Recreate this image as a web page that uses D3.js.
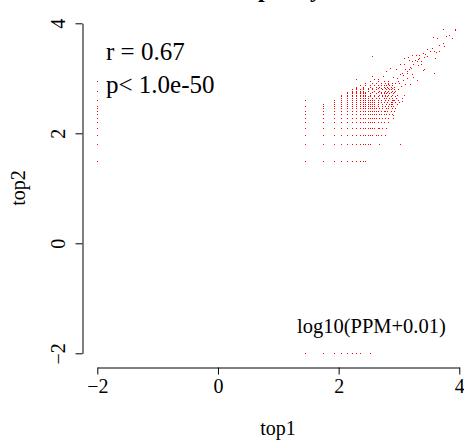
<!DOCTYPE html>
<html>
<head>
<meta charset="utf-8">
<script src="https://cdn.jsdelivr.net/npm/d3@7"></script>
<style>
  html, body { margin: 0; padding: 0; background: #fff; }
  svg { display: block; }
  text { font-family: "Liberation Serif", "Times New Roman", serif; fill: #000; }
</style>
</head>
<body>
<svg id="chart" width="464" height="443"></svg>
<script>
// ---------------- data ----------------
const titleText = "purity";
const xLabel = "top1";
const yLabel = "top2";
const statLines = ["r = 0.67", "p< 1.0e-50"];
const noteText = "log10(PPM+0.01)";
const tickValues = [-2, 0, 2, 4];
const pseudo = 0.01;

// PPM per read for each library
const top1PPMPerRead = 28.4;
const top2PPMPerRead = 30.8;

// top2 read counts where top1 has zero reads
const top1ZeroTop2Counts = [1, 2, 3, 4, 5, 6, 7, 8, 9, 10, 13, 19, 28];
// top1 read counts where top2 has zero reads
const top2ZeroTop1Counts = [1, 2, 3, 4, 5, 6, 7, 8, 12];

// low-count lattice: [top2 count, [top1 count ranges / singles]]
const latticeRows = [
  [1, [[1, 10]]],
  [2, [[1, 12], 17, 38]],
  [3, [[1, 13], 15, 16, 18, 21]],
  [4, [[1, 14], 16, 17, 19, 22]],
  [5, [[1, 14], 16, 18, 20, 24]],
  [6, [[1, 15], 17, 19, 21, 24, 29]],
  [7, [[1, 15], 17, 18, 20, 22, 25, 28]],
  [8, [[1, 16], 18, 20, 21, 23, 26, 30]],
  [9, [[2, 15], 17, 19, 22, 24, 27, 31]],
  [10, [[1, 14], 16, 19, 21, 24, 26, 29]],
  [11, [[2, 14], 16, 19, 22, 25, 27, 33]],
  [12, [[3, 14], 16, 18, 20, 23, 26, 28, 31, 36]],
  [13, [1, [3, 14], 16, 18, 21, 24, 27, 30, 34]],
  [14, [[4, 11], 13, 15, 17, 20, 22, 25, 28, 32, 40]],
  [15, [[4, 12], 14, 16, 19, 21, 23, 26, 31]],
  [16, [[4, 10], 12, 14, 17, 19, 21, 24, 27, 33]],
  [17, [[5, 10], 12, 15, 18, 20, 22, 25, 29]],
  [18, [[5, 10], 13, 16, 18, 20, 23, 26, 30]],
  [19, [[6, 9], 11, 14, 17, 21, 24, 28]],
  [20, [[6, 9], 11, 13, 15, 19, 22, 25, 30, 34]],
  [21, [7, 9, 11, 13, 16, 18, 21, 24, 27]],
  [22, [7, 9, 12, 15, 17, 20, 23, 26, 30]],
  [24, [8, 10, 12, 14, 16, 18, 20, 22, 25, 28]],
  [26, [10, 13, 15, 18, 21, 24, 27]],
  [28, [12, 16, 20, 24]]
];

// higher-expression points, log10(PPM+0.01)
const top1High = [3.741, 3.940, 3.945, 3.841, 3.791, 3.891, 3.565, 3.642, 3.741, 3.665, 3.758, 3.554, 3.476, 3.516,
  3.587, 3.626, 3.675, 3.405, 3.438, 3.476, 3.421, 3.609, 3.227, 3.289, 3.338, 3.344, 3.327, 3.272, 3.300, 3.366,
  2.564, 3.161, 3.090, 3.167, 3.217, 3.023, 3.095, 3.244, 3.371, 3.322, 3.426, 3.400, 3.587, 3.189, 3.167, 3.200,
  3.106, 3.134, 3.051, 3.144, 2.957, 2.862, 2.796, 2.912, 2.968, 3.023, 3.068, 3.217, 3.244, 3.134, 2.559, 2.592,
  2.663, 2.736, 3.300, 3.078, 3.012, 2.940, 3.189, 3.106, 3.090, 3.056, 2.869, 2.907, 2.299, 2.907, 2.990, 3.040,
  2.880, 2.830, 2.950];
const top2High = [3.891, 3.865, 3.880, 3.782, 3.764, 3.727, 3.745, 3.727, 3.636, 3.600, 3.582, 3.538, 3.515, 3.496,
  3.484, 3.478, 3.484, 3.442, 3.424, 3.393, 3.382, 3.369, 3.418, 3.418, 3.418, 3.364, 3.338, 3.320, 3.302, 3.302,
  3.400, 3.382, 3.351, 3.327, 3.309, 3.260, 3.255, 3.260, 3.260, 3.229, 3.151, 3.133, 3.091, 3.200, 3.164, 3.175,
  3.151, 3.120, 3.091, 3.084, 3.151, 3.182, 3.127, 3.018, 3.000, 3.060, 3.047, 3.060, 3.011, 3.000, 3.036, 2.987,
  2.987, 3.029, 2.969, 2.969, 2.909, 2.909, 2.891, 2.891, 2.684, 2.575, 2.527, 2.605, 2.978, 2.327, 2.950, 2.860,
  2.800, 2.880, 2.760];

// ---------------- build point list ----------------
const lg = v => Math.log10(v + pseudo);
const points = [];
top1ZeroTop2Counts.forEach(c => points.push([lg(0), lg(c * top2PPMPerRead)]));
top2ZeroTop1Counts.forEach(c => points.push([lg(c * top1PPMPerRead), lg(0)]));
latticeRows.forEach(([j, spec]) => {
  spec.forEach(s => {
    if (Array.isArray(s)) {
      for (let k = s[0]; k <= s[1]; k++) points.push([lg(k * top1PPMPerRead), lg(j * top2PPMPerRead)]);
    } else {
      points.push([lg(s * top1PPMPerRead), lg(j * top2PPMPerRead)]);
    }
  });
});
top1High.forEach((v, i) => points.push([v, top2High[i]]));

// ---------------- chart ----------------
const svg = d3.select("#chart");
const x = d3.scaleLinear().domain([-2, 4]).range([97.3, 459.3]);
const y = d3.scaleLinear().domain([-2, 4]).range([353.3, 23.3]);
const fmt = d => (d < 0 ? "\u2212" + Math.abs(d) : String(d));

// title (mostly clipped above the window, as in the reference)
svg.append("text")
  .attr("x", 290).attr("y", -3.5)
  .attr("text-anchor", "middle")
  .style("font-size", "24px").style("font-weight", "bold")
  .text(titleText);

// points
svg.append("g").selectAll("rect").data(points).join("rect")
  .attr("x", d => Math.floor(x(d[0])))
  .attr("y", d => Math.floor(y(d[1])))
  .attr("width", 1).attr("height", 1)
  .attr("fill", "#ff0000")
  .attr("shape-rendering", "crispEdges");

// x axis
const gx = svg.append("g").attr("transform", "translate(0,367.5)")
  .call(d3.axisBottom(x).tickValues(tickValues).tickSize(7).tickSizeOuter(0).tickFormat(fmt));
gx.select(".domain").attr("stroke", "#000");
gx.selectAll(".tick line").attr("stroke", "#000");
gx.selectAll(".tick text")
  .attr("y", 25.5).attr("dy", null)
  .style("font-size", "20px").style("font-family", "Liberation Serif").attr("fill", "#000");

// y axis
const gy = svg.append("g").attr("transform", "translate(82.5,0)")
  .call(d3.axisLeft(y).tickValues(tickValues).tickSize(7).tickSizeOuter(0).tickFormat(fmt));
gy.select(".domain").attr("stroke", "#000");
gy.selectAll(".tick line").attr("stroke", "#000");
gy.selectAll(".tick text")
  .attr("x", null).attr("dy", null)
  .attr("text-anchor", "middle")
  .attr("transform", "translate(-17.5,0) rotate(-90)")
  .style("font-size", "20px").style("font-family", "Liberation Serif").attr("fill", "#000");

// axis titles
svg.append("text")
  .attr("x", 278).attr("y", 435)
  .attr("text-anchor", "middle")
  .style("font-size", "20px")
  .text(xLabel);
svg.append("text")
  .attr("transform", "translate(25,188) rotate(-90)")
  .attr("text-anchor", "middle")
  .style("font-size", "20px")
  .text(yLabel);

// stats
svg.append("text").attr("x", 106).attr("y", 60).style("font-size", "25px").text(statLines[0]);
svg.append("text").attr("x", 106).attr("y", 93).style("font-size", "25px").text(statLines[1]);

// note
svg.append("text").attr("x", 297).attr("y", 333).style("font-size", "20.5px").text(noteText);
</script>
</body>
</html>
